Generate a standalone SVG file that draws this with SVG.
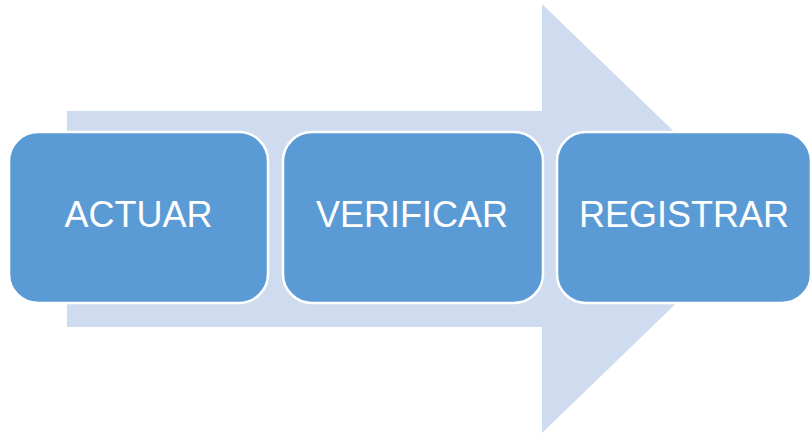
<svg xmlns="http://www.w3.org/2000/svg" width="810" height="435" viewBox="0 0 810 435">
<style>
.box{fill:#5B9BD5;stroke:#FFFFFF;stroke-width:2.5}
.lbl{font-family:"Liberation Sans",Arial,sans-serif;font-size:36px;fill:#FFFFFF;text-anchor:middle}
</style>
<rect width="810" height="435" fill="#FFFFFF"/>
<g id="connectors">
<polygon points="67,111 542,111 542,4 764,218.5 542,433 542,327 67,327" fill="#CFDBEF"/>
</g>
<g id="node-actuar">
<rect class="box" x="9" y="132" width="259" height="171" rx="29" ry="29"/>
<text class="lbl" x="138.5" y="227">ACTUAR</text>
</g>
<g id="node-verificar">
<rect class="box" x="283" y="132" width="260" height="171" rx="29" ry="29"/>
<text class="lbl" x="412" y="227">VERIFICAR</text>
</g>
<g id="node-registrar">
<rect class="box" x="557" y="132" width="254" height="171" rx="29" ry="29"/>
<text class="lbl" x="684" y="227">REGISTRAR</text>
</g>
</svg>
